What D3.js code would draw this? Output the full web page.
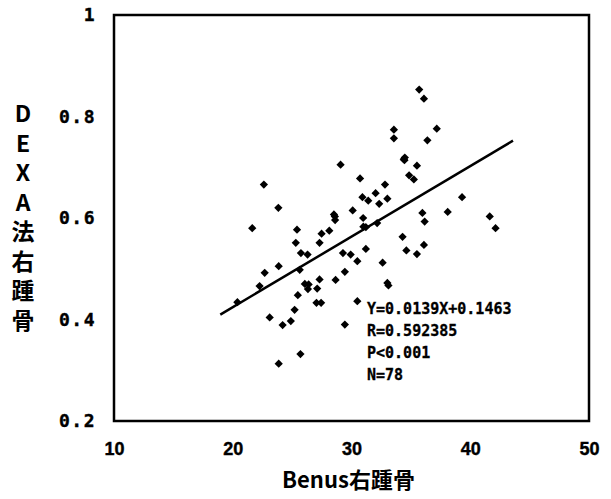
<!DOCTYPE html>
<html>
<head>
<meta charset="utf-8">
<script src="https://cdn.jsdelivr.net/npm/d3@7"></script>
<style>
  html, body { margin: 0; padding: 0; background: #fff; }
  svg { display: block; }
</style>
</head>
<body>
<svg id="chart" width="611" height="499"></svg>
<script>
// ---- data ----
const benusX = [20.39,21.64,22.26,22.69,22.62,23.11,23.84,23.87,23.87,24.2,24.89,25.21,25.31,25.41,25.48,25.64,25.74,25.7,26.3,26.07,26.39,26.33,27.05,27.11,27.31,27.44,27.31,27.48,28.13,28.52,28.62,28.66,29.08,29.28,29.44,29.44,29.93,30.1,30.49,30.49,30.72,30.92,30.98,31.21,31.21,31.41,32.03,32.16,32.33,32.62,32.82,33.02,33.02,33.11,33.57,33.57,34.3,34.46,34.49,34.62,34.85,35.25,35.51,35.51,35.7,36.1,35.97,36.16,36.1,36.39,37.18,38.1,39.31,41.64,42.13,31.0,28.6,34.4];
const dexaY  = [0.434,0.580,0.466,0.492,0.666,0.404,0.620,0.505,0.313,0.389,0.397,0.419,0.551,0.577,0.448,0.498,0.531,0.332,0.528,0.470,0.469,0.460,0.433,0.461,0.479,0.433,0.551,0.569,0.575,0.607,0.596,0.478,0.705,0.531,0.494,0.390,0.528,0.615,0.515,0.436,0.678,0.641,0.600,0.582,0.539,0.634,0.649,0.590,0.628,0.512,0.666,0.638,0.472,0.467,0.774,0.757,0.563,0.714,0.719,0.536,0.684,0.676,0.703,0.529,0.853,0.835,0.610,0.593,0.547,0.753,0.776,0.612,0.641,0.603,0.580,0.583,0.603,0.716];
const xTicks = [10, 20, 30, 40, 50];
const yTicks = [0.2, 0.4, 0.6, 0.8, 1];
const yTickLabels = ["0.2", "0.4", "0.6", "0.8", "1"];
const fitSlope = 0.0139, fitIntercept = 0.1463;
const fitRange = [18.95, 43.6];
const statsText = ["Y=0.0139X+0.1463", "R=0.592385", "P<0.001", "N=78"];
const xTitle = "Benus右踵骨";
const yTitle = "DEXA法右踵骨";

// ---- layout ----
const svg = d3.select("#chart");
const pLeft = 114, pRight = 589, pTop = 15, pBottom = 421;
const x = d3.scaleLinear().domain([10, 50]).range([pLeft, pRight]);
const y = d3.scaleLinear().domain([0.2, 1]).range([pBottom, pTop]);

// frame
svg.append("rect")
  .attr("x", pLeft).attr("y", pTop)
  .attr("width", pRight - pLeft).attr("height", pBottom - pTop)
  .attr("fill", "none").attr("stroke", "#000").attr("stroke-width", 2.5);

// x axis labels
const xAxis = d3.axisBottom(x).tickValues(xTicks).tickSize(0).tickPadding(0).tickFormat(d3.format("d"));
const gx = svg.append("g").attr("transform", `translate(0,${pBottom + 21})`).call(xAxis);
gx.select(".domain").remove();
gx.selectAll("text")
  .attr("dy", "0.71em")
  .attr("font-family", "'Liberation Sans', Arial, sans-serif")
  .attr("font-weight", "bold")
  .attr("font-size", 18)
  .attr("fill", "#000")
  .attr("stroke", "#000").attr("stroke-width", 0.4);

// y axis labels
const yAxis = d3.axisLeft(y).tickValues(yTicks).tickSize(0).tickPadding(0)
  .tickFormat((d, i) => yTickLabels[i]);
const gy = svg.append("g").attr("transform", `translate(${pLeft - 18},0)`).call(yAxis);
gy.select(".domain").remove();
gy.selectAll("text")
  .attr("font-family", "'DejaVu Sans Mono', monospace")
  .attr("font-weight", "bold")
  .attr("font-size", 18)
  .attr("letter-spacing", 1.5)
  .attr("fill", "#000")
  .attr("stroke", "#000").attr("stroke-width", 0.4);

// regression line
svg.append("line")
  .attr("x1", x(fitRange[0])).attr("y1", y(fitSlope * fitRange[0] + fitIntercept))
  .attr("x2", x(fitRange[1])).attr("y2", y(fitSlope * fitRange[1] + fitIntercept))
  .attr("stroke", "#000").attr("stroke-width", 2.5);

// points (diamonds)
const sym = d3.symbol().type(d3.symbolSquare).size(34);
svg.append("g").selectAll("path")
  .data(benusX.map((v, i) => [v, dexaY[i]]))
  .join("path")
  .attr("d", sym)
  .attr("transform", d => `translate(${x(d[0])},${y(d[1])}) rotate(45)`)
  .attr("fill", "#000");

// stats text
svg.append("g").selectAll("text")
  .data(statsText)
  .join("text")
  .attr("x", 367)
  .attr("y", (d, i) => 314 + i * 22)
  .attr("font-family", "'DejaVu Sans Mono', monospace")
  .attr("font-weight", "bold")
  .attr("font-size", 15)
  .attr("fill", "#000")
  .attr("stroke", "#000").attr("stroke-width", 0.3)
  .text(d => d);

// x title
svg.append("text")
  .attr("x", (pLeft + pRight) / 2 - 3)
  .attr("y", 488)
  .attr("text-anchor", "middle")
  .attr("font-family", "'Noto Sans CJK JP', sans-serif")
  .attr("font-weight", "bold")
  .attr("font-size", 22)
  .attr("fill", "#000")
  .text(xTitle);

// y title (vertical, upright characters)
svg.append("text")
  .attr("x", 23)
  .attr("y", 102)
  .attr("font-family", "'Noto Sans CJK JP', sans-serif")
  .attr("font-weight", "bold")
  .attr("font-size", 23)
  .attr("letter-spacing", 6.5)
  .style("writing-mode", "vertical-rl")
  .style("text-orientation", "upright")
  .attr("fill", "#000")
  .text(yTitle);
</script>
</body>
</html>
